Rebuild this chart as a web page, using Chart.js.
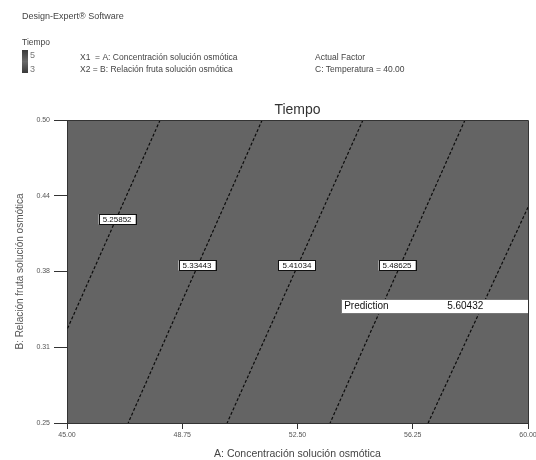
<!DOCTYPE html>
<html>
<head>
<meta charset="utf-8">
<script src="https://cdn.jsdelivr.net/npm/chart.js@4.4.1/dist/chart.umd.min.js"></script>
<style>
  html, body { margin: 0; padding: 0; background: #fff; }
  #wrap { width: 536px; height: 460px; position: relative; }
</style>
</head>
<body>
<div id="wrap"><canvas id="c"></canvas></div>
<script>
// contour levels of Tiempo, and the two ends of each line (A, B)
const contourLevels = [5.25852, 5.33443, 5.41034, 5.48625, 5.56216];
const contourA = [[48.03, 45.00], [51.35, 46.99], [54.63, 50.21], [57.95, 53.56], [60.00, 56.75]];
const contourB = [[0.500, 0.327], [0.500, 0.250], [0.500, 0.250], [0.500, 0.250], [0.428, 0.250]];

// where each level label sits
const labelA = [46.63, 49.23, 52.48, 55.74];
const labelB = [0.418, 0.380, 0.380, 0.380];

// prediction flag
const predictionValue = 5.60432;
const predictionA = [53.92, 60.00];
const predictionB = [0.3465];

const xTicks = [45.00, 48.75, 52.50, 56.25, 60.00];
const xTickLabels = ['45.00', '48.75', '52.50', '56.25', '60.00'];
const yTicks = [0.25, 0.3125, 0.375, 0.4375, 0.50];
const yTickLabels = ['0.25', '0.31', '0.38', '0.44', '0.50'];

const FONT = '"Liberation Sans", Arial, sans-serif';

const datasets = contourLevels.map((lv, i) => ({
  label      : lv.toFixed(5),
  data       : contourA[i].map((a, k) => ({ x: a, y: contourB[i][k] })),
  showLine   : true,
  borderColor: '#0c0c0c',
  borderWidth: 1.2,
  borderDash : [3, 2],
  pointRadius: 0,
  fill       : false
}));

const headerPlugin = {
  id: 'header',
  beforeDraw(chart) {
    const ctx = chart.ctx;
    const a = chart.chartArea;
    ctx.save();
    ctx.fillStyle = '#fff';
    ctx.fillRect(0, 0, chart.width, chart.height);

    // plot background
    ctx.fillStyle = '#646464';
    ctx.fillRect(a.left, a.top, a.right - a.left, a.bottom - a.top);

    ctx.textBaseline = 'middle';
    ctx.fillStyle = '#444';
    ctx.font = '9px ' + FONT;
    ctx.fillText('Design-Expert\u00ae Software', 22, 17);
    ctx.font = '8.5px ' + FONT;
    ctx.fillText('Tiempo', 22, 43);

    // colour bar
    const g = ctx.createLinearGradient(0, 50, 0, 73);
    g.addColorStop(0, '#3a3a3a');
    g.addColorStop(0.5, '#6a6a6a');
    g.addColorStop(1, '#3a3a3a');
    ctx.fillStyle = g;
    ctx.fillRect(22, 50, 6, 23);
    ctx.fillStyle = '#777';
    ctx.font = '9px ' + FONT;
    ctx.fillText('5', 30, 56);
    ctx.fillText('3', 30, 70);

    ctx.fillStyle = '#444';
    ctx.font = '8.5px ' + FONT;
    ctx.fillText('X1  = A: Concentración solución osmótica', 80, 58);
    ctx.fillText('X2 = B: Relación fruta solución osmótica', 80, 70);
    ctx.fillText('Actual Factor', 315, 58);
    ctx.fillText('C: Temperatura = 40.00', 315, 70);

    ctx.fillStyle = '#333';
    ctx.font = '14px ' + FONT;
    ctx.textAlign = 'center';
    ctx.fillText('Tiempo', (a.left + a.right) / 2, 110);
    ctx.restore();
  },
  afterDatasetsDraw(chart) {
    const ctx = chart.ctx;
    const a = chart.chartArea;
    const xs = chart.scales.x, ys = chart.scales.y;
    ctx.save();

    // level labels
    ctx.font = '8px ' + FONT;
    ctx.textAlign = 'center';
    ctx.textBaseline = 'middle';
    labelA.forEach((v, i) => {
      const px = xs.getPixelForValue(v), py = ys.getPixelForValue(labelB[i]);
      const t = contourLevels[i].toFixed(5);
      const w = ctx.measureText(t).width + 8;
      ctx.fillStyle = '#fff';
      ctx.fillRect(px - w / 2, py - 5, w, 10);
      ctx.strokeStyle = '#111';
      ctx.lineWidth = 1;
      ctx.strokeRect(Math.round(px - w / 2) + 0.5, Math.round(py - 5) + 0.5, Math.round(w), 10);
      ctx.fillStyle = '#111';
      ctx.fillText(t, px, py + 0.5);
    });

    // prediction flag
    const l = xs.getPixelForValue(predictionA[0]);
    const r = xs.getPixelForValue(predictionA[1]);
    const cy = ys.getPixelForValue(predictionB[0]);
    ctx.fillStyle = '#fff';
    ctx.fillRect(l, cy - 7, r - l, 14);
    ctx.strokeStyle = '#777';
    ctx.strokeRect(Math.round(l) + 0.5, Math.round(cy - 7) + 0.5, Math.round(r - l), 14);
    ctx.fillStyle = '#111';
    ctx.font = '10px ' + FONT;
    ctx.textAlign = 'left';
    ctx.fillText('Prediction', l + 3, cy + 0.5);
    ctx.fillText(predictionValue.toFixed(5), l + 106, cy + 0.5);

    // frame top & right
    ctx.strokeStyle = '#333';
    ctx.beginPath();
    ctx.moveTo(a.left, a.top + 0.5);
    ctx.lineTo(a.right + 0.5, a.top + 0.5);
    ctx.lineTo(a.right + 0.5, a.bottom);
    ctx.stroke();
    ctx.restore();
  }
};

new Chart(document.getElementById('c'), {
  type: 'scatter',
  data: { datasets },
  plugins: [headerPlugin],
  options: {
    responsive         : true,
    maintainAspectRatio: false,
    animation          : false,
    layout             : { padding: { top: 120, right: 8, left: 0, bottom: 0 } },
    plugins: {
      legend : { display: false },
      tooltip: { enabled: false }
    },
    scales: {
      x: {
        type: 'linear',
        min : 45,
        max : 60,
        afterBuildTicks: s => { s.ticks = xTicks.map(v => ({ value: v })); },
        afterFit: s => { s.height = 37; s.paddingLeft = 0; s.paddingRight = 0; },
        grid  : { drawOnChartArea: false, tickLength: 6, tickColor: '#333' },
        border: { color: '#333' },
        ticks : {
          color      : '#555',
          font       : { size: 7, family: FONT },
          padding    : 2,
          maxRotation: 0,
          autoSkip   : false,
          callback   : (v, i) => xTickLabels[i]
        },
        title: {
          display: true,
          text   : 'A: Concentración solución osmótica',
          color  : '#444',
          font   : { size: 10.5, family: FONT },
          padding: { top: 2, bottom: 0 }
        }
      },
      y: {
        type: 'linear',
        min : 0.25,
        max : 0.50,
        afterBuildTicks: s => { s.ticks = yTicks.map(v => ({ value: v })); },
        afterFit: s => { s.width = 67; s.paddingTop = 0; s.paddingBottom = 0; },
        grid  : { drawOnChartArea: false, tickLength: 13, tickColor: '#333' },
        border: { color: '#333' },
        ticks : {
          color   : '#555',
          font    : { size: 7, family: FONT },
          padding : 4,
          autoSkip: false,
          callback: (v, i) => yTickLabels[i]
        },
        title: {
          display: true,
          text   : 'B: Relación fruta solución osmótica',
          color  : '#555',
          font   : { size: 10, family: FONT },
          padding: { top: 14, bottom: 0 }
        }
      }
    }
  }
});
</script>
</body>
</html>
